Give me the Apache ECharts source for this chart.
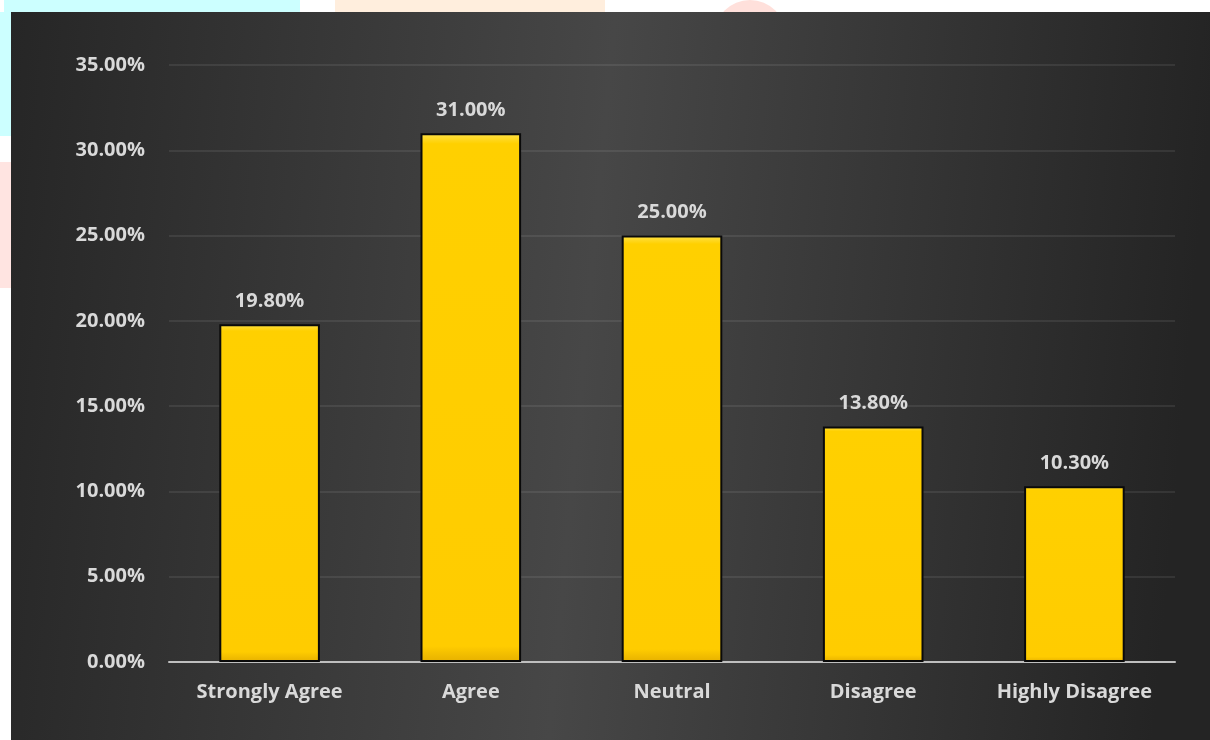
<!DOCTYPE html>
<html>
<head>
<meta charset="utf-8">
<script src="https://cdn.jsdelivr.net/npm/echarts@6/dist/echarts.min.js"></script>
<style>
  html, body { margin: 0; padding: 0; background: #ffffff; }
  #chart { width: 1210px; height: 740px; }
</style>
</head>
<body>
<div id="chart"></div>
<script>
// Survey response shares (percent)
const categories = ['Strongly Agree', 'Agree', 'Neutral', 'Disagree', 'Highly Disagree'];
const shares = [19.8, 31.0, 25.0, 13.8, 10.3];
const axisMin = 0;
const axisMax = 35;
const axisStep = 5;

const chart = echarts.init(document.getElementById('chart'), null, { renderer: 'canvas' });

const font = '"Open Sans", "Noto Sans", sans-serif';
const textColor = '#d9d9d9';

chart.setOption({
  backgroundColor: '#ffffff',
  animation: false,
  graphic: [
    // faint decorative shapes around the panel edge
    { type: 'rect', z: -10, shape: { x: 4, y: 0, width: 296, height: 12 }, style: { fill: '#ccffff' } },
    { type: 'rect', z: -10, shape: { x: 0, y: 12, width: 11, height: 124 }, style: { fill: '#ccffff' } },
    { type: 'rect', z: -10, shape: { x: 335, y: 0, width: 270, height: 12 }, style: { fill: '#ffeedd' } },
    { type: 'circle', z: -10, shape: { cx: 750, cy: 36, r: 36 }, style: { fill: '#ffe0db' } },
    { type: 'rect', z: -10, shape: { x: 0, y: 162, width: 11, height: 126 }, style: { fill: '#ffe4e1' } },
    // dark chart panel
    {
      type: 'rect', z: -5,
      shape: { x: 11, y: 12, width: 1199, height: 728 },
      style: {
        fill: new echarts.graphic.LinearGradient(0, 0, 1, 0.15, [
          { offset: 0, color: '#262626' },
          { offset: 0.5, color: '#474747' },
          { offset: 1, color: '#242424' }
        ])
      }
    }
  ],
  grid: { left: 169, right: 35, top: 65, bottom: 78, containLabel: false },
  xAxis: {
    type: 'category',
    data: categories,
    axisLine: { show: true, lineStyle: { color: '#bfbfbf', width: 2 } },
    axisTick: { show: false },
    axisLabel: { interval: 0, color: textColor, fontFamily: font, fontWeight: 'bold', fontSize: 20, margin: 20 }
  },
  yAxis: {
    type: 'value',
    min: axisMin,
    max: axisMax,
    interval: axisStep,
    axisLine: { show: false },
    axisTick: { show: false },
    splitLine: { lineStyle: { color: 'rgba(255,255,255,0.08)', width: 2 } },
    axisLabel: {
      color: textColor, fontFamily: font, fontWeight: 'bold', fontSize: 20, margin: 24,
      formatter: v => v.toFixed(2) + '%'
    }
  },
  series: [{
    type: 'bar',
    data: shares,
    barWidth: '50%',
    itemStyle: {
      color: new echarts.graphic.LinearGradient(0, 0, 0, 1, [
        { offset: 0, color: '#ffe24a' },
        { offset: 0.02, color: '#ffd000' },
        { offset: 0.97, color: '#ffcc00' },
        { offset: 1, color: '#e6b000' }
      ]),
      borderColor: '#0a0a0a',
      borderWidth: 2
    },
    label: {
      show: true,
      position: 'top',
      distance: 13,
      color: textColor,
      fontFamily: font,
      fontWeight: 'bold',
      fontSize: 20,
      formatter: p => p.value.toFixed(2) + '%'
    }
  }]
});
</script>
</body>
</html>
